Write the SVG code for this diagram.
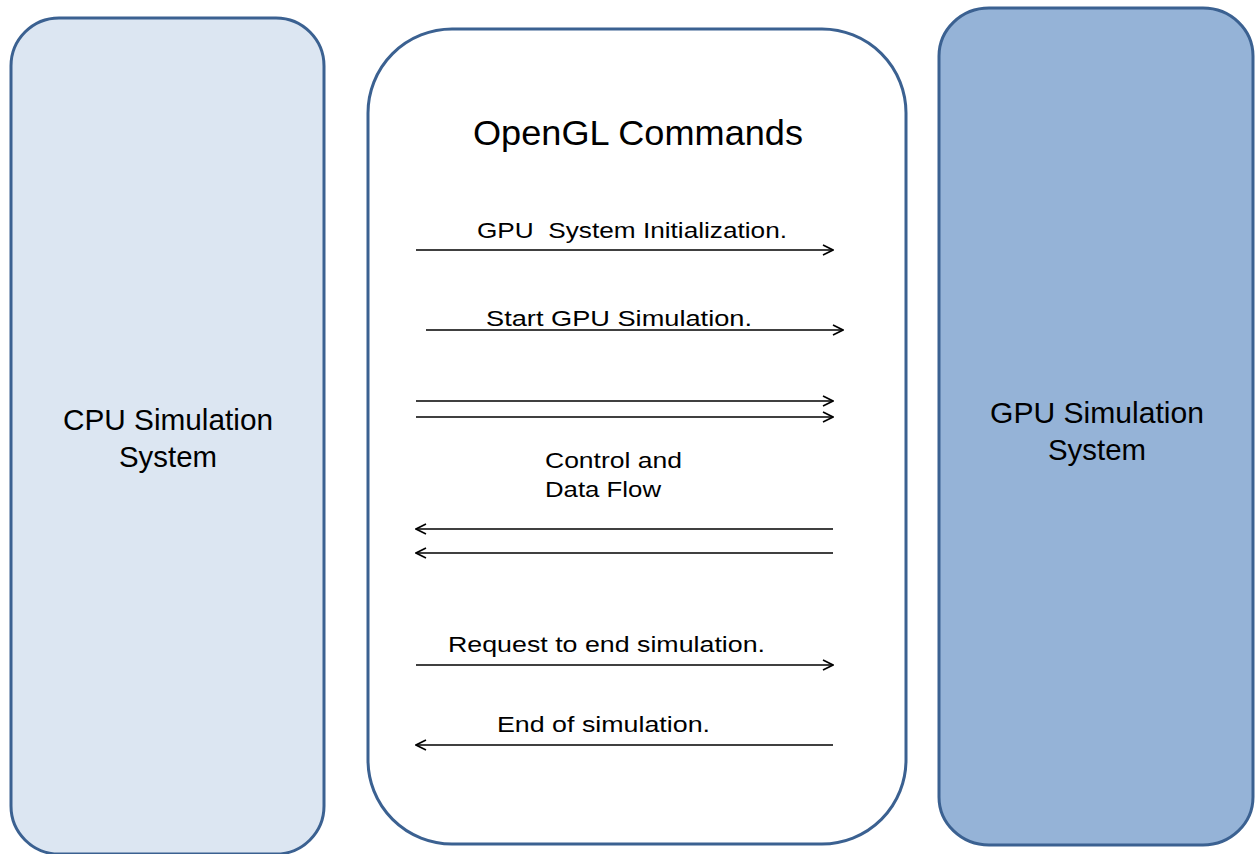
<svg xmlns="http://www.w3.org/2000/svg" width="1259" height="854" viewBox="0 0 1259 854">
<defs>
<style>
.box{stroke:#3b6191;stroke-width:3}
.t{font-family:"Liberation Sans",Arial,sans-serif;fill:#000}
.big{font-size:30px}
.lbl{font-size:22px}
.arr{stroke:#000;stroke-width:1.6;fill:none}
</style>
<marker id="ah" viewBox="0 0 12 12" refX="11" refY="6" markerWidth="12" markerHeight="12" markerUnits="userSpaceOnUse" orient="auto">
<path d="M1,1 L11,6 L1,11" fill="none" stroke="#000" stroke-width="1.6"/>
</marker>
</defs>
<rect width="1259" height="854" fill="#fff"/>
<g id="cpu">
<rect class="box" x="11" y="18" width="313" height="836" rx="48" ry="48" fill="#dce6f2"/>
<text class="t big" x="168" y="430" text-anchor="middle" textLength="210" lengthAdjust="spacingAndGlyphs">CPU Simulation</text>
<text class="t big" x="168" y="467" text-anchor="middle" textLength="98" lengthAdjust="spacingAndGlyphs">System</text>
</g>
<g id="opengl">
<rect class="box" x="368" y="29" width="538" height="815" rx="84" ry="84" fill="#fff"/>
<text class="t" font-size="35" x="473" y="145" textLength="330" lengthAdjust="spacingAndGlyphs">OpenGL Commands</text>
</g>
<g id="gpu">
<rect class="box" x="939" y="8" width="314" height="837" rx="50" ry="48" fill="#95b3d7"/>
<text class="t big" x="1097" y="423" text-anchor="middle" textLength="214" lengthAdjust="spacingAndGlyphs">GPU Simulation</text>
<text class="t big" x="1097" y="460" text-anchor="middle" textLength="98" lengthAdjust="spacingAndGlyphs">System</text>
</g>
<g id="connectors">
<line class="arr" x1="416" y1="250" x2="833" y2="250" marker-end="url(#ah)"/>
<line class="arr" x1="426" y1="330" x2="843" y2="330" marker-end="url(#ah)"/>
<line class="arr" x1="416" y1="401" x2="833" y2="401" marker-end="url(#ah)"/>
<line class="arr" x1="416" y1="417" x2="833" y2="417" marker-end="url(#ah)"/>
<line class="arr" x1="833" y1="529" x2="416" y2="529" marker-end="url(#ah)"/>
<line class="arr" x1="833" y1="553" x2="416" y2="553" marker-end="url(#ah)"/>
<line class="arr" x1="416" y1="665" x2="833" y2="665" marker-end="url(#ah)"/>
<line class="arr" x1="833" y1="745" x2="416" y2="745" marker-end="url(#ah)"/>
<text class="t lbl" x="477" y="238" textLength="310" lengthAdjust="spacingAndGlyphs" xml:space="preserve">GPU  System Initialization.</text>
<text class="t lbl" x="486" y="326" textLength="266" lengthAdjust="spacingAndGlyphs">Start GPU Simulation.</text>
<text class="t lbl" x="545" y="468" textLength="137" lengthAdjust="spacingAndGlyphs">Control and</text>
<text class="t lbl" x="545" y="497" textLength="116" lengthAdjust="spacingAndGlyphs">Data Flow</text>
<text class="t lbl" x="448" y="652" textLength="317" lengthAdjust="spacingAndGlyphs">Request to end simulation.</text>
<text class="t lbl" x="497" y="732" textLength="213" lengthAdjust="spacingAndGlyphs">End of simulation.</text>
</g>
</svg>
